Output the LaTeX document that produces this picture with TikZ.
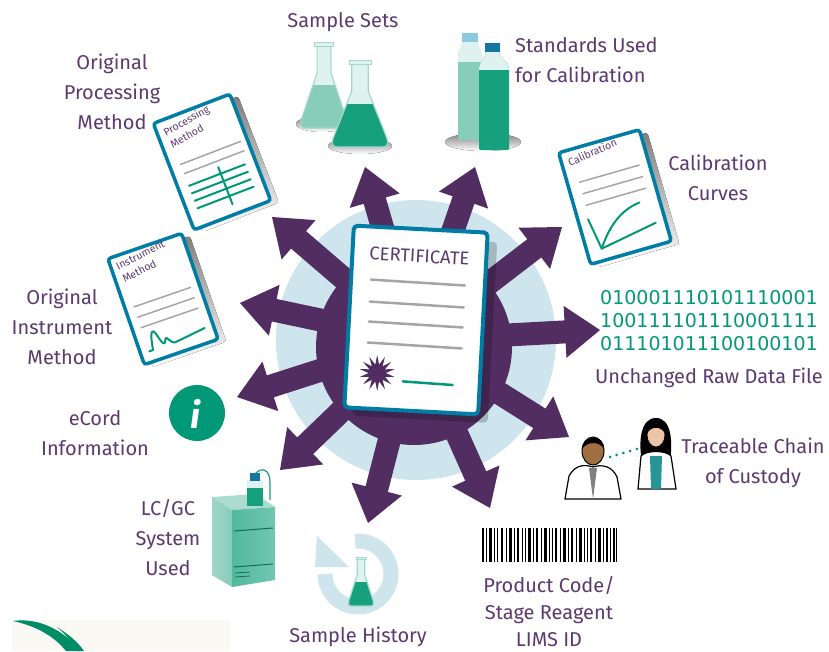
\documentclass[tikz,border=0pt]{standalone}
\usepackage{fontspec}
\setmainfont{Fira Sans}
\newfontfamily\digitfont{DejaVu Sans}
\usetikzlibrary{calc,shapes.geometric}

\definecolor{plum}{RGB}{82,45,98}
\definecolor{labelc}{RGB}{92,58,112}
\definecolor{docblue}{RGB}{0,125,165}
\definecolor{leaf}{RGB}{0,152,118}
\definecolor{skyring}{RGB}{206,229,237}
\definecolor{rulegray}{RGB}{165,165,165}
\definecolor{shade}{RGB}{208,208,208}
\definecolor{glass}{RGB}{222,242,240}
\definecolor{glassedge}{RGB}{165,215,205}
\definecolor{mint}{RGB}{135,205,185}
\definecolor{deepteal}{RGB}{22,160,125}
\definecolor{capsky}{RGB}{140,200,222}
\definecolor{capblue}{RGB}{25,118,160}
\definecolor{cream}{RGB}{251,249,243}
\definecolor{swoosh}{RGB}{0,140,100}
\definecolor{skinA}{RGB}{160,110,65}
\definecolor{skinB}{RGB}{235,195,165}
\definecolor{shirt}{RGB}{40,150,150}

% outline of an Erlenmeyer flask, unit width and height
\def\flaskpath{(-0.15,0.03) -- (-0.15,0.36) -- (-0.49,0.9) .. controls (-0.52,0.96) and (-0.5,1) .. (-0.42,1) -- (0.42,1) .. controls (0.5,1) and (0.52,0.96) .. (0.49,0.9) -- (0.15,0.36) -- (0.15,0.03) -- cycle}
% #1 x, #2 top y, #3 width, #4 height, #5 liquid colour
\newcommand\drawflask[5]{%
  \begin{scope}[shift={(#1,#2)}, xscale=#3, yscale=#4]
    \fill[glass] \flaskpath;
    \begin{scope}
      \clip \flaskpath;
      \fill[#5] (-0.6,0.5) rectangle (0.6,1.1);
    \end{scope}
    \draw[glassedge, line width=1.2] \flaskpath;
    \filldraw[fill=glass, draw=glassedge, line width=1] (-0.2,0) rectangle (0.2,0.05);
  \end{scope}}

\begin{document}
\begin{tikzpicture}[x=1pt, y=-1pt,
  label/.style={font=\fontsize{20}{30}\selectfont, text=labelc, align=center, inner sep=0pt},
  sheet/.style={fill=white, draw=docblue, line width=3.5, rounded corners=3},
  sheettext/.style={transform shape, anchor=north west, text=labelc, font=\fontsize{10.5}{14}\selectfont, align=left, inner sep=0pt},
  ruleline/.style={rulegray, line width=1.5, line cap=round},
  plotline/.style={leaf, line width=2, line cap=round, line join=round}]

\useasboundingbox (0,0) rectangle (829,651);
\fill[white] (0,0) rectangle (829,651);

% logo corner
\fill[cream] (12,620) rectangle (230,651);
\fill[swoosh] (13,621) .. controls (40,617) and (66,632) .. (80,651) -- (66,651) .. controls (54,636) and (36,626) .. (13,621) -- cycle;
\fill[swoosh] (57,627) .. controls (68,634) and (78,642) .. (84,651) -- (78,651) .. controls (72,642) and (65,634) .. (57,627) -- cycle;

% halo and radiating arrows
\fill[skyring] (416,340) circle (140);
\coordinate (hub) at (415,340);
\coordinate (t1) at (365,167);
\coordinate (t2) at (475,167);
\coordinate (t3) at (272,217);
\coordinate (t4) at (562,227);
\coordinate (t5) at (240,303);
\coordinate (t6) at (600,330);
\coordinate (t7) at (237,397);
\coordinate (t8) at (280,470);
\coordinate (t9) at (569,437);
\coordinate (t10) at (368,523);
\coordinate (t11) at (490,508);
\foreach \t in {t1,t2,t3,t4,t5,t6,t7,t8,t9,t10,t11} {
  \coordinate (b) at ($(\t)!35pt!(hub)$);
  \fill[plum] ($(hub)!11.5pt!90:(\t)$) -- ($(b)!11.5pt!-90:(hub)$) -- ($(b)!26pt!-90:(hub)$)
     -- (\t) -- ($(b)!26pt!90:(hub)$) -- ($(b)!11.5pt!90:(hub)$) -- ($(hub)!11.5pt!-90:(\t)$) -- cycle;
}
\fill[plum] (414,347) circle (98);

% certificate
\begin{scope}[shift={(416,320)}, rotate=-3]
  \fill[black, opacity=.2, rounded corners=4] (-58,-82) rectangle (77,99);
  \filldraw[sheet, line width=4, rounded corners=4] (-67,-91) rectangle (67,91);
  \node[text=labelc, font=\fontsize{18.5}{18.5}\selectfont, transform shape] (certtitle) at (0,-64) {CERTIFICATE};
  \foreach \yy in {-38,-16,4,25} \draw[rulegray, line width=2.5, line cap=round] (-47,\yy) -- (47,\yy+1);
  \node[star, star points=14, star point ratio=2.1, fill=plum, minimum size=36, inner sep=0pt] (seal) at (-36,55) {};
  \draw[leaf, line width=2.5, line cap=round] (-10,62) -- (40,63);
\end{scope}

% sample sets
\fill[shade] (322,124) ellipse (26 and 8);
\fill[shade] (360,146) ellipse (32 and 8);
\drawflask{324}{42}{46}{86}{mint}
\drawflask{360}{60}{55}{87}{deepteal}
\node[label] (samplesets) at (343,22) {Sample Sets};

% standards bottles
\fill[shade] (483,142) ellipse (38 and 9);
\begin{scope}
  \clip (458,58) .. controls (458,50) and (463,46) .. (463,41) -- (477,41) .. controls (477,46) and (482,50) .. (482,58) -- (482,136) .. controls (482,140) .. (478,140) -- (462,140) .. controls (458,140) .. (458,136) -- cycle;
  \fill[mint] (450,30) rectangle (490,145);
  \fill[glass] (450,30) rectangle (490,62);
\end{scope}
\fill[capsky] (462,33) rectangle (478,42);
\begin{scope}
  \clip (479,70) .. controls (479,60) and (486,58) .. (486,52) -- (499,52) .. controls (499,58) and (509,60) .. (509,70) -- (509,146) .. controls (509,150) .. (505,150) -- (483,150) .. controls (479,150) .. (479,146) -- cycle;
  \fill[deepteal] (470,40) rectangle (515,155);
  \fill[glass] (470,40) rectangle (515,70);
\end{scope}
\fill[capblue] (485,43) rectangle (500,52);
\node[label, align=left, anchor=west] (standards) at (515,60) {Standards Used\\for Calibration};

% processing method sheet
\begin{scope}[shift={(212,162)}, rotate=21]
  \fill[shade, rounded corners=3] (-34,-52) rectangle (48,62);
  \filldraw[sheet] (-41,-57) rectangle (41,57);
  \node[sheettext, rotate=8] (proctitle) at (-35,-49) {Processing\\Method};
  \draw[ruleline] (-30,-9) -- (34,-9);
  \draw[ruleline] (-30,1) -- (34,1);
  \foreach \yy in {14,22,30,38} \draw[plotline] (-30,\yy) -- (30,\yy);
  \draw[plotline] (4,7) -- (4,47);
\end{scope}
\node[label] (proclabel) at (112,92) {Original\\Processing\\Method};

% instrument method sheet
\begin{scope}[shift={(163,299)}, rotate=19]
  \fill[shade, rounded corners=3] (-32,-51) rectangle (46,61);
  \filldraw[sheet] (-39,-56) rectangle (39,56);
  \node[sheettext, rotate=8] (insttitle) at (-34,-49) {Instrument\\Method};
  \draw[ruleline] (-30,-2) -- (30,-2);
  \draw[ruleline] (-30,9) -- (30,9);
  \draw[ruleline] (-30,20) -- (30,20);
  \draw[plotline] (-30,45) -- (-26,45) .. controls (-23,26) and (-20,22) .. (-17,34) .. controls (-15,43) and (-13,45) .. (-11,39) .. controls (-9,34) and (-7,45) .. (-3,45) -- (30,41);
\end{scope}
\node[label] (instlabel) at (62,327) {Original\\Instrument\\Method};

% calibration sheet
\begin{scope}[shift={(615,197)}, rotate=16]
  \fill[shade, rounded corners=3] (-35,-53) rectangle (49,63);
  \filldraw[sheet] (-42,-58) rectangle (42,58);
  \node[sheettext, rotate=8] (caltitle) at (-36,-50) {Calibration};
  \draw[ruleline] (-30,-24) -- (32,-24);
  \draw[ruleline] (-30,-12) -- (32,-12);
  \draw[ruleline] (-30,0) -- (32,0);
  \draw[plotline] (-32,14) -- (-27,46) -- (32,36);
  \draw[plotline] (-27,46) .. controls (-12,24) and (4,14) .. (22,12);
\end{scope}
\node[label] (callabel) at (718,178) {Calibration\\Curves};

% raw data
\node[label, text=leaf, font=\digitfont\fontsize{19}{23}\selectfont] (bits) at (709,321) {010001110101110001\\100111101110001111\\011101011100100101};
\node[label] (rawlabel) at (709,378) {Unchanged Raw Data File};

% eCord
\fill[leaf] (197,413) circle (28);
\node[text=white, font=\fontsize{36}{36}\selectfont\itshape\bfseries] (infoi) at (195,414) {i};
\node[label] (ecordlabel) at (95,433) {eCord\\Information};

% custody: two analysts
\filldraw[fill=white, draw=black, line width=1.2] (565,499) -- (569,476) .. controls (575,465) and (584,464) .. (593,467) .. controls (602,464) and (612,466) .. (617,477) -- (621,499) -- cycle;
\fill[gray] (589,468) -- (597,468) -- (593,499) -- cycle;
\filldraw[fill=skinA, draw=black, line width=1] (593,451) ellipse (11 and 14);
\fill[black] (582,449) .. controls (581,435) and (605,433) .. (604,449) .. controls (600,441) and (587,441) .. (582,449) -- cycle;
\fill[black] (642,462) .. controls (638,440) and (641,418) .. (656,418) .. controls (671,418) and (673,440) .. (670,462) -- cycle;
\filldraw[fill=white, draw=black, line width=1.2] (638,489) -- (641,456) .. controls (646,450) and (666,450) .. (671,456) -- (676,489) -- cycle;
\fill[shirt] (650,456) -- (662,456) -- (661,489) -- (651,489) -- cycle;
\filldraw[fill=skinB, draw=black, line width=0.8] (656,435) ellipse (9 and 12);
\fill[black] (647,433) .. controls (647,420) and (665,420) .. (665,433) .. controls (660,426) and (652,426) .. (647,433) -- cycle;
\coordinate (talkA) at (610,457);
\coordinate (talkB) at (640,448);
\draw[leaf, line width=3, line cap=round, dash pattern=on 0pt off 7pt] (talkA) -- (talkB);
\node[label] (custody) at (753,463) {Traceable Chain\\of Custody};

% LC/GC system
\fill[mint!70!white] (212,497) -- (256,494) -- (275,507) -- (232,510) -- cycle;
\shade[left color=mint!80!white, right color=mint] (212,497) -- (232,510) -- (232,587) -- (212,575) -- cycle;
\shade[left color=deepteal!75!white, right color=deepteal!60!white] (232,510) -- (275,507) -- (275,580) -- (232,587) -- cycle;
\draw[deepteal!70!black, line width=1] (234,531) -- (273,528);
\draw[deepteal!70!black, line width=1] (234,567) -- (273,564);
\draw[deepteal!70!black, line width=0.8] (235,573) -- (250,572);
\draw[deepteal!70!black, line width=0.8] (235,577) -- (250,576);
\draw[deepteal, line width=1.2] (255,474) .. controls (262,466) and (270,470) .. (270,482) -- (270,500);
\fill[deepteal] (247,485) rectangle (263,506);
\fill[glass] (247,480) rectangle (263,488);
\fill[capblue] (250,473) rectangle (260,481);
\node[label] (lcgc) at (168,538) {LC/GC\\System\\Used};

% sample history
\draw[skyring, line width=15] (358,574) ++(-95:33) arc[start angle=-95, end angle=180, radius=33];
\fill[skyring] (315,567) -- (349,567) -- (317,536) -- cycle;
\drawflask{361}{557}{25}{49}{deepteal}
\node[label] (history) at (358,637) {Sample History};

% barcode
\foreach \bx/\bw in {0/2,4/1,7/3,12/1,15/1,19/2,24/1,27/3,32/1,35/2,40/1,43/1,46/3,51/1,54/2,59/1,62/3,67/1,70/1,73/2,78/1,81/3,86/1,89/2,94/1,97/3,102/1,105/1,108/2,113/1,116/3,121/1,124/2,128/1,131/2,134/1}
  \fill[black] (482+\bx,528) rectangle (482+\bx+\bw,562);
\node[label, font=\fontsize{20}{27}\selectfont] (product) at (549,612) {Product Code/\\Stage Reagent\\LIMS ID};

\end{tikzpicture}
\end{document}
